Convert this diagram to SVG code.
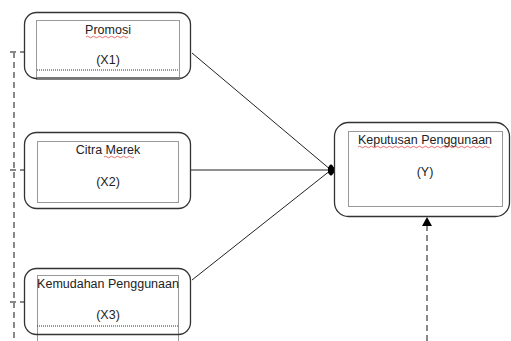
<svg xmlns="http://www.w3.org/2000/svg" width="511" height="341" viewBox="0 0 511 341">
<defs>
<style>
.outer{fill:#fff;stroke:#333;stroke-width:1.3}
.inner{fill:none;stroke:#333;stroke-width:1;stroke-dasharray:1 1}
.bar{stroke:#777;stroke-width:2}
.t{font-family:"Liberation Sans",Arial,sans-serif;font-size:12.5px;fill:#222;text-anchor:middle}
.conn{stroke:#222;stroke-width:1;fill:none}
.dash{stroke:#888;stroke-width:2;stroke-dasharray:6 4;fill:none}
.wavy{stroke:#e03030;stroke-width:0.7;fill:none}
</style>
<marker id="dot" markerWidth="12" markerHeight="14" refX="6" refY="7" orient="0" markerUnits="userSpaceOnUse">
<path d="M6,1.5 Q9.5,4 9,7 Q9.5,10 6,12.5 Q2.5,10 3,7 Q2.5,4 6,1.5 Z" fill="#000"/>
</marker>
</defs>
<g id="connectors">
<line class="conn" x1="192" y1="53" x2="331" y2="170" marker-end="url(#dot)"/>
<line class="conn" x1="191" y1="170" x2="331" y2="170" marker-end="url(#dot)"/>
<line class="conn" x1="192" y1="280" x2="331" y2="170" marker-end="url(#dot)"/>
<line class="dash" x1="14" y1="52" x2="14" y2="341"/>
<line class="dash" x1="10" y1="52" x2="24" y2="52"/>
<line class="dash" x1="10" y1="170" x2="24" y2="170"/>
<line class="dash" x1="10" y1="302" x2="24" y2="302"/>
<line class="dash" x1="427" y1="341" x2="427" y2="225"/>
<path d="M422,226 L427,217 L432,226 Z" fill="#000"/>
</g>
<g id="promosi">
<rect class="outer" x="24.5" y="12.5" width="166" height="66" rx="12"/>
<rect class="inner" x="36.5" y="20.5" width="143" height="59"/>
<line class="inner" x1="37" y1="70" x2="179" y2="70"/>
<line class="bar" x1="37" y1="78" x2="180" y2="78"/>
<text class="t" x="108" y="34">Promosi</text>
<path class="wavy" d="M86,37 q1.5,-1.5 3,0 t3,0 t3,0 t3,0 t3,0 t3,0 t3,0 t3,0 t3,0 t3,0 t3,0 t3,0 t3,0 t3,0"/>
<text class="t" x="108" y="64">(X1)</text>
</g>
<g id="citra">
<rect class="outer" x="24.5" y="132.5" width="166" height="76" rx="12"/>
<rect class="inner" x="37.5" y="141.5" width="141" height="61"/>
<text class="t" x="108" y="154">Citra Merek</text>
<path class="wavy" d="M104,157 q1.5,-1.5 3,0 t3,0 t3,0 t3,0 t3,0 t3,0 t3,0 t3,0 t3,0 t3,0"/>
<text class="t" x="108" y="186">(X2)</text>
</g>
<g id="kemudahan">
<rect class="outer" x="24.5" y="268.5" width="166" height="66" rx="12"/>
<rect class="inner" x="37.5" y="275.5" width="141" height="66"/>
<line class="inner" x1="37" y1="326" x2="179" y2="326"/>
<text class="t" x="108" y="288">Kemudahan Penggunaan</text>
<text class="t" x="108" y="319">(X3)</text>
</g>
<g id="keputusan">
<rect class="outer" x="334.5" y="122.5" width="175" height="94" rx="14"/>
<rect class="inner" x="348.5" y="131.5" width="154" height="75"/>
<text class="t" x="425" y="144">Keputusan Penggunaan</text>
<path class="wavy" d="M358,147 q1.5,-1.5 3,0 t3,0 t3,0 t3,0 t3,0 t3,0 t3,0 t3,0 t3,0 t3,0 t3,0 t3,0 t3,0 t3,0 t3,0 t3,0 t3,0 t3,0 t3,0 t3,0 t3,0 t3,0 t3,0 t3,0 t3,0 t3,0 t3,0 t3,0 t3,0 t3,0 t3,0 t3,0 t3,0 t3,0 t3,0 t3,0 t3,0 t3,0 t3,0 t3,0 t3,0 t3,0 t3,0 t3,0"/>
<text class="t" x="425" y="176">(Y)</text>
</g>
</svg>
